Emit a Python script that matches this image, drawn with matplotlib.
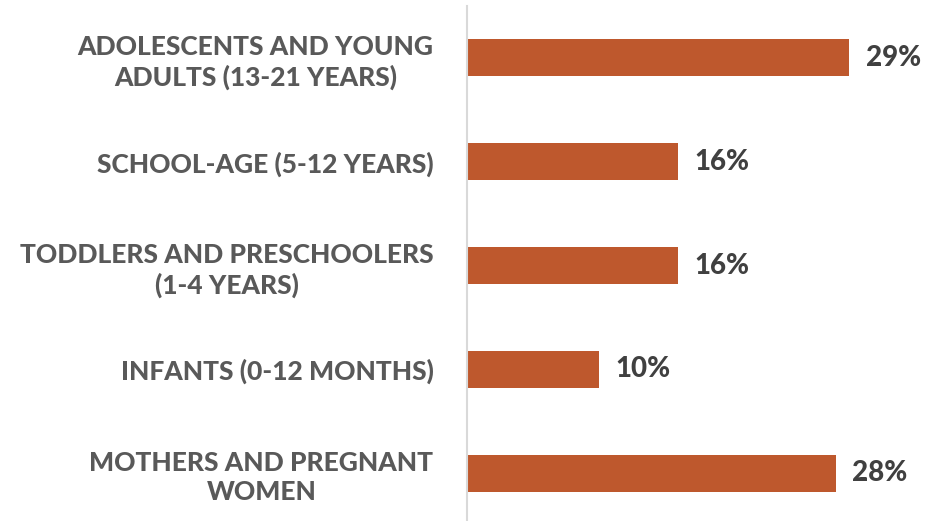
import matplotlib

matplotlib.use("Agg")
import matplotlib.pyplot as plt

categories = [
    "ADOLESCENTS AND YOUNG\nADULTS (13-21 YEARS)",
    "SCHOOL-AGE (5-12 YEARS)",
    "TODDLERS AND PRESCHOOLERS\n(1-4 YEARS)",
    "INFANTS (0-12 MONTHS)",
    "MOTHERS AND PREGNANT\nWOMEN",
]
values = [29, 16, 16, 10, 28]
value_labels = ["29%", "16%", "16%", "10%", "28%"]

BAR_COLOR = "#BE582D"
LABEL_COLOR = "#595959"
VALUE_COLOR = "#404040"

plt.rcParams["font.family"] = ["Lato", "DejaVu Sans"]

fig = plt.figure(figsize=(9.28, 5.21), dpi=100)
ax = fig.add_axes([0.503, -0.008, 0.497, 0.9965])

pos = list(range(len(categories)))
ax.barh(pos, values, height=0.357, color=BAR_COLOR)
ax.set_ylim(len(categories) - 0.5, -0.5)
ax.set_xlim(0, 35.0)

for p, v, lab in zip(pos, values, value_labels):
    ax.annotate(lab, (v, p), xytext=(12, 0), textcoords="offset points",
                ha="left", va="center", fontsize=20, fontweight="black",
                color=VALUE_COLOR)

ax.set_yticks(pos)
ax.set_yticklabels(categories, fontsize=19, fontweight="black",
                   color=LABEL_COLOR, multialignment="center",
                   linespacing=1.25)
ax.tick_params(axis="y", length=0, pad=24)
ax.set_xticks([])

for side in ("top", "right", "bottom"):
    ax.spines[side].set_visible(False)
ax.spines["left"].set_color("#D9D9D9")
ax.spines["left"].set_linewidth(1.5)

fig.savefig("out.png", dpi=100)
